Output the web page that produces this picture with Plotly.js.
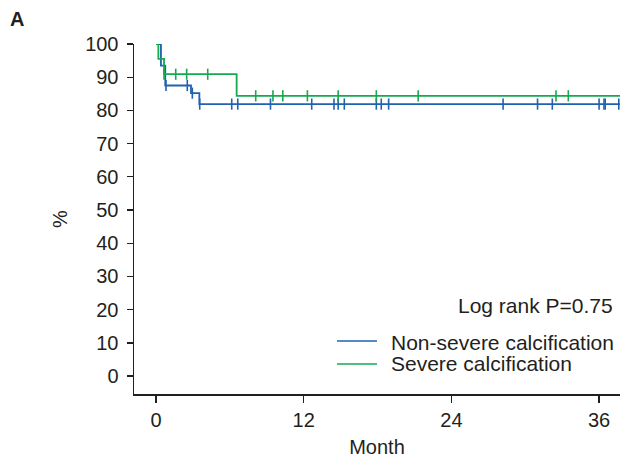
<!DOCTYPE html>
<html>
<head>
<meta charset="utf-8">
<script src="https://cdn.plot.ly/plotly-3.0.1.min.js"></script>
<style>html,body{margin:0;padding:0;background:#fff;}#chart{width:624px;height:458px;}</style>
</head>
<body>
<div id="chart"></div>
<script>
// Kaplan-Meier step data (months, % survival)
const blueStepT = [0, 0.4, 0.75, 2.84, 3.52, 37.7];
const blueStepS = [100, 93.5, 87.5, 85.2, 81.9, 81.9];
const blueCensorT = [0.81, 2.54, 2.95, 3.55, 6.15, 6.64, 9.3, 12.65, 14.46, 14.8, 15.3, 17.9, 18.3, 18.9, 28.2, 31.0, 32.2, 36.0, 36.4, 36.5, 37.6];
const blueCensorS = [87.5, 87.5, 85.2, 81.9, 81.9, 81.9, 81.9, 81.9, 81.9, 81.9, 81.9, 81.9, 81.9, 81.9, 81.9, 81.9, 81.9, 81.9, 81.9, 81.9, 81.9];

const greenStepT = [0, 0.19, 0.65, 6.55, 37.7];
const greenStepS = [100, 95.5, 90.9, 84.4, 84.4];
const greenCensorT = [0.65, 1.6, 2.49, 4.2, 8.1, 9.5, 10.3, 12.3, 14.8, 17.9, 21.3, 32.5, 33.5];
const greenCensorS = [90.9, 90.9, 90.9, 90.9, 84.4, 84.4, 84.4, 84.4, 84.4, 84.4, 84.4, 84.4, 84.4];

const seriesNames = ["Non-severe calcification", "Severe calcification"];
const xTicks = [0, 12, 24, 36];
const yTicks = [0, 10, 20, 30, 40, 50, 60, 70, 80, 90, 100];
const pText = "Log rank P=0.75";

const BLUE = "#1f62b0";
const GREEN = "#16a950";
const TXT = "#231f20";
const FONT = "Liberation Sans, Arial, sans-serif";

const traces = [
  {x: blueStepT, y: blueStepS, mode: "lines", line: {shape: "hv", color: BLUE, width: 1.8}, showlegend: false, hoverinfo: "skip"},
  {x: greenStepT, y: greenStepS, mode: "lines", line: {shape: "hv", color: GREEN, width: 1.8}, showlegend: false, hoverinfo: "skip"},
  {x: blueCensorT, y: blueCensorS, mode: "markers", marker: {symbol: "line-ns-open", size: 8, color: BLUE, line: {color: BLUE, width: 1.6}}, showlegend: false, hoverinfo: "skip"},
  {x: greenCensorT, y: greenCensorS, mode: "markers", marker: {symbol: "line-ns-open", size: 8, color: GREEN, line: {color: GREEN, width: 1.6}}, showlegend: false, hoverinfo: "skip"}
];

// helpers: pixel -> paper coords within plot area (134..620, 44..394)
const px = v => (v - 134) / 486;
const py = v => (394 - v) / 350;

const layout = {
  width: 624, height: 458,
  margin: {l: 134, r: 4, t: 44, b: 64, pad: 0},
  paper_bgcolor: "#fff", plot_bgcolor: "#fff",
  font: {family: FONT, size: 20, color: TXT},
  showlegend: false,
  xaxis: {
    range: [-1.79, 37.7], tickvals: xTicks, ticktext: xTicks.map(String),
    showgrid: false, zeroline: false, showline: true, linecolor: TXT, linewidth: 1.5,
    ticks: "outside", ticklen: 7, tickwidth: 1.3, tickcolor: TXT,
    tickfont: {size: 20, family: FONT, color: TXT},
    title: {text: "Month", font: {size: 20, family: FONT, color: TXT}, standoff: 10}
  },
  yaxis: {
    range: [-5.4, 100], tickvals: yTicks, ticktext: yTicks.map(String),
    showgrid: false, zeroline: false, showline: true, linecolor: TXT, linewidth: 1.5,
    ticks: "outside", ticklen: 6, tickwidth: 1.3, tickcolor: TXT,
    tickfont: {size: 20, family: FONT, color: TXT}, ticklabelstandoff: 4,
    title: {text: "%", font: {size: 20, family: FONT, color: TXT}, standoff: 12}
  },
  shapes: [
    {type: "line", xref: "paper", yref: "paper", x0: px(337), x1: px(377), y0: py(341), y1: py(341), line: {color: BLUE, width: 1.5}},
    {type: "line", xref: "paper", yref: "paper", x0: px(337), x1: px(377), y0: py(364), y1: py(364), line: {color: GREEN, width: 1.5}}
  ],
  annotations: [
    {text: pText, xref: "paper", yref: "paper", x: px(615), y: py(305), xanchor: "right", yanchor: "middle", showarrow: false, font: {size: 21, family: FONT, color: TXT}},
    {text: seriesNames[0], xref: "paper", yref: "paper", x: px(389), y: py(342), xanchor: "left", yanchor: "middle", showarrow: false, font: {size: 21, family: FONT, color: TXT}},
    {text: seriesNames[1], xref: "paper", yref: "paper", x: px(389), y: py(363), xanchor: "left", yanchor: "middle", showarrow: false, font: {size: 21, family: FONT, color: TXT}},
    {text: "<b>A</b>", xref: "paper", yref: "paper", x: px(8), y: py(19), xanchor: "left", yanchor: "middle", showarrow: false, font: {size: 20, family: FONT, color: TXT}}
  ]
};

Plotly.newPlot("chart", traces, layout, {staticPlot: true, displayModeBar: false});
</script>
</body>
</html>
